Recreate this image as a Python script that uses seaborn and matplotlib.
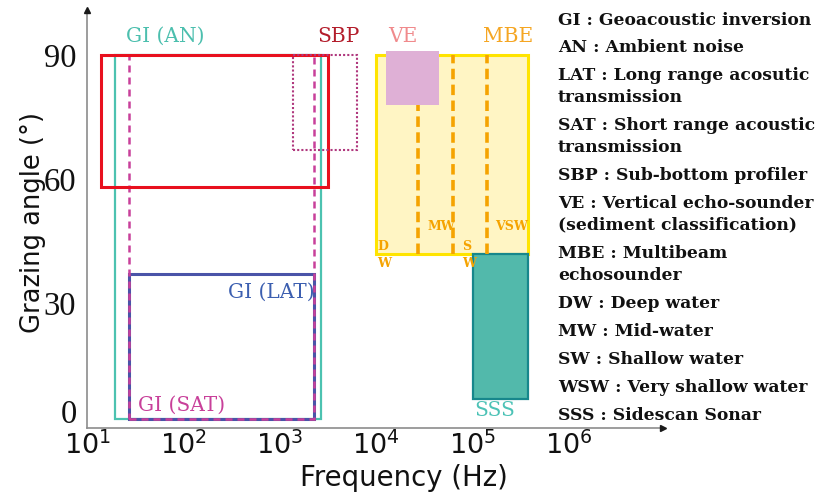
import numpy as np
import pandas as pd
import matplotlib
matplotlib.use("Agg")
import matplotlib.pyplot as plt
import seaborn as sns
from matplotlib.patches import Rectangle
from matplotlib.ticker import NullLocator

# ---- frequency bands (Hz) and grazing-angle spans (deg) for each method ----
gi_an_freq = [19.4, 2670]
gi_an_angle = [2, 90]
gi_sat_freq = [27, 2260]
gi_sat_angle = [2, 90]
gi_lat_freq = [27, 2260]
gi_lat_angle = [2, 37]
sbp_freq = [13.8, 3180]
sbp_angle = [58, 90]
sbp_hf_freq = [1380, 6300]
sbp_hf_angle = [67, 90]
mbe_freq = [1.0e4, 3.8e5]
mbe_angle = [42, 90]
ve_freq = [1.27e4, 4.5e4]
ve_angle = [78, 91]
sss_freq = [1.0e5, 3.8e5]
sss_angle = [7, 42]
# boundaries between water-depth regimes of the multibeam band
mbe_regime_freq = [2.7e4, 6.2e4, 1.4e5]

x_ticks = [1e1, 1e2, 1e3, 1e4, 1e5, 1e6]
x_tick_labels = [r"$10^{1}$", r"$10^{2}$", r"$10^{3}$", r"$10^{4}$", r"$10^{5}$", r"$10^{6}$"]
y_ticks = [30, 60, 90]
y_tick_labels = ["30", "60", "90"]

glossary = [
    "GI : Geoacoustic inversion",
    "AN : Ambient noise",
    "LAT : Long range acosutic\ntransmission",
    "SAT : Short range acoustic\ntransmission",
    "SBP : Sub-bottom profiler",
    "VE : Vertical echo-sounder\n(sediment classification)",
    "MBE : Multibeam\nechosounder",
    "DW : Deep water",
    "MW : Mid-water",
    "SW : Shallow water",
    "WSW : Very shallow water",
    "SSS : Sidescan Sonar",
]

sns.set_theme(style="white")
plt.rcParams["font.family"] = ["DejaVu Sans"]

W, H = 819, 498
fig = plt.figure(figsize=(W / 100, H / 100), dpi=100)
ax = fig.add_axes([87.3 / W, 1 - 427.5 / H, (663 - 87.3) / W, (427.5 - 10) / H])
ax.set_xscale("log")
ax.set_xlim(10, 10 ** (1 + (663 - 87.3) / 96.3))
ax.set_ylim(0, (427.5 - 10) / 4.139)


def box(freq, angle, **kw):
    ax.add_patch(Rectangle((freq[0], angle[0]), freq[1] - freq[0],
                           angle[1] - angle[0], **kw))


# multibeam band, vertical echo-sounder, sidescan
box(mbe_freq, mbe_angle, facecolor="#fff5c4", edgecolor="#ffe400", lw=2.2, zorder=1)
box(sss_freq, sss_angle, facecolor="#52b9ab", edgecolor="#17878c", lw=1.6, zorder=1.5)

regime_df = pd.DataFrame({
    "freq": np.repeat(mbe_regime_freq, 2),
    "angle": np.tile(mbe_angle, len(mbe_regime_freq)),
    "line": np.repeat(np.arange(len(mbe_regime_freq)), 2),
})
sns.lineplot(data=regime_df, x="freq", y="angle", units="line", estimator=None,
             sort=False, color="#f5a300", lw=2.6, linestyle=(0, (2.9, 1.5)),
             ax=ax, zorder=2, legend=False)
box(ve_freq, ve_angle, facecolor="#dfb0d6", edgecolor="none", zorder=3)

# geoacoustic inversion and sub-bottom profiler bands
box(gi_an_freq, gi_an_angle, fill=False, edgecolor="#4cc2b0", lw=1.6, zorder=2)
box(gi_lat_freq, gi_lat_angle, fill=False, edgecolor="#4a54a8", lw=2.2, zorder=3)
box(gi_sat_freq, gi_sat_angle, fill=False, edgecolor="#c8409a", lw=1.8,
    linestyle=(0, (2.8, 2.0)), zorder=4)
box(sbp_freq, sbp_angle, fill=False, edgecolor="#e8101e", lw=2.2, zorder=5)
box(sbp_hf_freq, sbp_hf_angle, fill=False, edgecolor="#b0387e", lw=1.5,
    linestyle=(0, (1, 1)), zorder=6)

# in-plot labels
serif = "DejaVu Serif"
ax.text(10 ** 1.807, 94.5, "GI (AN)", color="#4cbfae", fontsize=14.5, family=serif,
        ha="center", va="center")
ax.text(10 ** 3.383, 94.5, "SBP", color="#b31d2b", fontsize=14.5, family=serif,
        ha="left", va="center")
ax.text(10 ** 4.278, 94.5, "VE", color="#f08a8c", fontsize=14.5, family=serif,
        ha="center", va="center")
ax.text(10 ** 5.367, 94.5, "MBE", color="#f5a623", fontsize=14.5, family=serif,
        ha="center", va="center")
ax.text(gi_lat_freq[1] * 1.01, 32.6, "GI (LAT)", color="#3c5fb0", fontsize=14.5,
        family=serif, ha="right", va="center")
ax.text(33.6, 5.4, "GI (SAT)", color="#c8409a", fontsize=14.5, family=serif,
        ha="left", va="center")
ax.text(10 ** 5.02, 4.2, "SSS", color="#4cc2b6", fontsize=14.5, family=serif,
        ha="left", va="center")

small = dict(color="#f5a300", fontsize=9, family=serif, fontweight="bold",
             ha="left", va="center", zorder=7)
ax.text(10 ** 4.528, 48.5, "MW", **small)
ax.text(10 ** 5.234, 48.5, "VSW", **small)
ax.text(10 ** 4.01, 43.7, "D", **small)
ax.text(10 ** 4.01, 39.7, "W", **small)
ax.text(10 ** 4.888, 43.7, "S", **small)
ax.text(10 ** 4.888, 39.7, "W", **small)

# axes styling
for side in ("top", "right"):
    ax.spines[side].set_visible(False)
for side in ("left", "bottom"):
    ax.spines[side].set_color("#8c8c8c")
    ax.spines[side].set_linewidth(1.2)
    ax.spines[side].set_zorder(0.5)
ax.plot(1, 0, marker=">", color="k", ms=5, transform=ax.transAxes, clip_on=False)
ax.plot(0, 1, marker="^", color="k", ms=5, transform=ax.transAxes, clip_on=False)

ax.set_xticks(x_ticks)
ax.set_xticklabels(x_tick_labels)
ax.xaxis.set_minor_locator(NullLocator())
ax.set_yticks(y_ticks)
ax.set_yticklabels(y_tick_labels, family="Liberation Serif")
ax.tick_params(axis="both", direction="in", length=9, width=1.2, color="#8c8c8c",
               colors="#111111")
ax.tick_params(axis="x", labelsize=19.5, pad=3)
ax.tick_params(axis="y", labelsize=23.5, pad=8)
ax.xaxis.get_major_ticks()[-1].tick1line.set_visible(False)
ax.text(-0.018, 3, "0", transform=ax.get_yaxis_transform(), ha="right", va="center",
        fontsize=23.5, family="Liberation Serif", color="#111111")

ax.set_xlabel("Frequency (Hz)", fontsize=19.8, color="#111111")
ax.xaxis.set_label_coords((404 - 87.3) / (663 - 87.3), -(478 - 427.5) / (427.5 - 10))
ax.set_ylabel("Grazing angle (°)", fontsize=18.5, color="#111111")
ax.yaxis.set_label_coords(-(87.3 - 33) / (663 - 87.3), (427.5 - 222) / (427.5 - 10))
ax.xaxis.label.set_va("center")
ax.yaxis.label.set_va("center")

# glossary of abbreviations
y_px = 20.0
for entry in glossary:
    for k, line in enumerate(entry.split("\n")):
        fig.text(558 / W, 1 - y_px / H, line, family=serif, fontweight="bold",
                 fontsize=12.3, color="#111111", ha="left", va="center")
        y_px += 21.75 if k < entry.count("\n") else 0
    y_px += 28

fig.savefig("out.png", dpi=100)
